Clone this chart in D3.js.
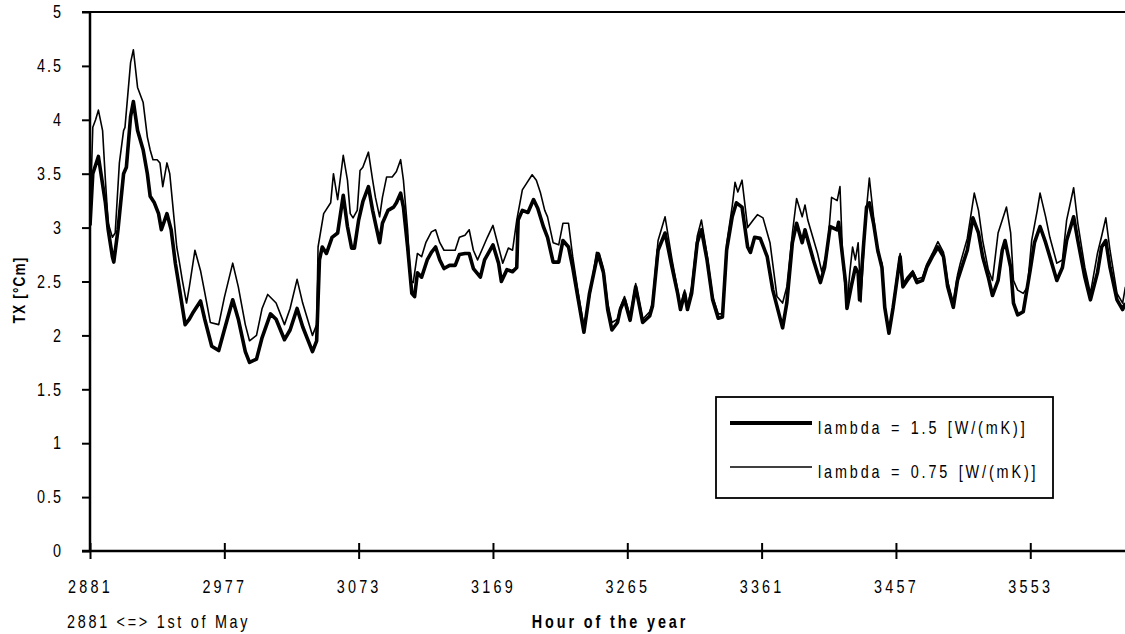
<!DOCTYPE html>
<html>
<head>
<meta charset="utf-8">
<script src="https://cdn.jsdelivr.net/npm/d3@7"></script>
<style>
  html, body { margin: 0; padding: 0; background: #fff; }
  svg { display: block; }
  text { font-family: "Liberation Sans", Arial, sans-serif; fill: #000; }
</style>
</head>
<body>
<svg id="chart" width="1125" height="634"></svg>
<script>
// Hourly temperature excess TX for May (hour 2881 = 1st of May), two soil conductivities.
// Each entry: [hour of the year, TX in °Cm]
const lambda15 = [
  [2881,3.02],[2883,3.50],[2887,3.66],[2892,3.23],[2894,2.98],[2897,2.73],[2898,2.68],[2901,2.98],
  [2905,3.50],[2907,3.56],[2910,4.03],[2912,4.17],[2915,3.90],[2919,3.72],[2922,3.50],[2924,3.29],
  [2927,3.23],[2930,3.13],[2932,2.98],[2936,3.13],[2939,2.98],[2942,2.67],[2944,2.51],[2949,2.10],
  [2952,2.15],[2955,2.22],[2960,2.32],[2963,2.15],[2968,1.90],[2973,1.86],[2977,2.05],[2983,2.33],
  [2987,2.15],[2992,1.85],[2995,1.75],[3000,1.78],[3004,1.98],[3010,2.20],[3014,2.15],[3020,1.96],
  [3024,2.05],[3029,2.25],[3033,2.08],[3040,1.85],[3043,1.95],[3045,2.70],[3047,2.82],[3050,2.76],
  [3054,2.91],[3058,2.95],[3062,3.30],[3065,3.01],[3068,2.81],[3070,2.81],[3073,3.07],[3076,3.24],
  [3080,3.38],[3083,3.16],[3085,3.04],[3088,2.86],[3090,3.04],[3094,3.16],[3098,3.19],[3100,3.23],
  [3103,3.32],[3105,3.19],[3108,2.82],[3111,2.39],[3113,2.36],[3115,2.58],[3118,2.54],[3122,2.70],
  [3125,2.77],[3128,2.82],[3131,2.70],[3134,2.62],[3138,2.65],[3142,2.65],[3145,2.75],[3149,2.76],
  [3152,2.76],[3155,2.62],[3160,2.54],[3163,2.70],[3169,2.84],[3173,2.67],[3175,2.50],[3179,2.61],
  [3183,2.59],[3186,2.63],[3187,3.07],[3190,3.16],[3194,3.14],[3198,3.26],[3201,3.18],[3205,3.01],
  [3208,2.91],[3212,2.68],[3216,2.68],[3219,2.88],[3223,2.82],[3226,2.63],[3230,2.33],[3234,2.03],
  [3238,2.39],[3244,2.76],[3248,2.58],[3251,2.24],[3254,2.05],[3258,2.12],[3260,2.24],[3263,2.33],
  [3267,2.14],[3271,2.45],[3276,2.12],[3281,2.18],[3283,2.27],[3287,2.79],[3292,2.95],[3297,2.63],
  [3301,2.39],[3303,2.24],[3306,2.39],[3308,2.24],[3311,2.39],[3315,2.86],[3318,2.98],[3322,2.70],
  [3326,2.33],[3330,2.16],[3333,2.17],[3336,2.79],[3340,3.10],[3343,3.23],[3347,3.19],[3351,2.82],
  [3353,2.77],[3356,2.91],[3360,2.90],[3365,2.73],[3369,2.42],[3376,2.07],[3379,2.30],[3383,2.86],
  [3386,3.04],[3390,2.86],[3392,2.98],[3398,2.70],[3403,2.49],[3406,2.63],[3410,3.01],[3415,2.98],
  [3416,3.05],[3421,2.49],[3422,2.25],[3425,2.45],[3428,2.63],[3430,2.58],[3431,2.33],[3434,2.86],
  [3436,3.19],[3438,3.23],[3441,3.04],[3444,2.79],[3447,2.63],[3449,2.26],[3452,2.02],[3455,2.26],
  [3458,2.54],[3460,2.73],[3462,2.45],[3465,2.51],[3469,2.58],[3472,2.49],[3476,2.51],[3479,2.63],
  [3483,2.73],[3487,2.82],[3491,2.73],[3494,2.45],[3498,2.26],[3501,2.51],[3504,2.63],[3508,2.79],
  [3512,3.09],[3516,2.95],[3519,2.73],[3523,2.54],[3526,2.37],[3530,2.51],[3533,2.79],[3535,2.88],
  [3539,2.63],[3541,2.30],[3544,2.19],[3548,2.22],[3553,2.61],[3556,2.86],[3560,3.01],[3564,2.86],
  [3567,2.73],[3572,2.51],[3576,2.63],[3579,2.88],[3584,3.10],[3587,2.88],[3592,2.54],[3596,2.33],
  [3601,2.58],[3604,2.82],[3607,2.88],[3610,2.63],[3615,2.33],[3619,2.24],[3621,2.30]
];

const lambda075 = [
  [2881,3.07],[2883,3.93],[2885,4.00],[2887,4.09],[2890,3.90],[2892,3.44],[2894,3.04],[2897,2.91],
  [2899,2.95],[2902,3.60],[2905,3.90],[2906,3.93],[2910,4.53],[2912,4.65],[2915,4.30],[2919,4.16],
  [2922,3.84],[2924,3.72],[2926,3.63],[2929,3.63],[2931,3.60],[2933,3.38],[2936,3.60],[2938,3.50],
  [2940,3.23],[2943,2.82],[2945,2.67],[2947,2.51],[2950,2.30],[2952,2.45],[2956,2.79],[2960,2.60],
  [2963,2.40],[2967,2.12],[2973,2.10],[2977,2.35],[2983,2.67],[2987,2.45],[2992,2.10],[2995,1.95],
  [3000,2.00],[3004,2.25],[3008,2.38],[3014,2.30],[3020,2.10],[3024,2.25],[3029,2.52],[3033,2.30],
  [3040,2.00],[3043,2.10],[3044,2.82],[3048,3.13],[3053,3.23],[3055,3.50],[3058,3.26],[3062,3.67],
  [3065,3.44],[3067,3.13],[3069,3.09],[3072,3.16],[3074,3.53],[3076,3.56],[3080,3.70],[3083,3.44],
  [3085,3.28],[3088,3.10],[3090,3.28],[3093,3.47],[3097,3.47],[3100,3.52],[3103,3.63],[3105,3.44],
  [3108,2.98],[3110,2.51],[3112,2.49],[3115,2.76],[3118,2.73],[3121,2.86],[3125,2.96],[3128,2.98],
  [3131,2.86],[3134,2.79],[3138,2.79],[3142,2.79],[3145,2.91],[3149,2.93],[3152,2.98],[3155,2.79],
  [3158,2.70],[3162,2.82],[3165,2.91],[3169,3.02],[3173,2.82],[3176,2.67],[3180,2.81],[3183,2.79],
  [3186,3.07],[3190,3.35],[3193,3.41],[3197,3.49],[3200,3.44],[3203,3.32],[3206,3.16],[3208,3.10],
  [3212,2.86],[3216,2.84],[3219,3.04],[3223,3.04],[3226,2.73],[3230,2.39],[3234,2.08],[3238,2.36],
  [3243,2.77],[3245,2.76],[3248,2.62],[3251,2.30],[3254,2.12],[3258,2.15],[3260,2.26],[3263,2.36],
  [3267,2.18],[3271,2.48],[3276,2.15],[3281,2.22],[3283,2.30],[3287,2.88],[3292,3.10],[3297,2.70],
  [3301,2.42],[3303,2.27],[3306,2.42],[3308,2.27],[3311,2.45],[3315,2.92],[3318,3.07],[3322,2.75],
  [3326,2.36],[3330,2.20],[3333,2.20],[3336,2.85],[3340,3.20],[3342,3.42],[3344,3.33],[3347,3.44],
  [3351,3.00],[3355,3.07],[3358,3.12],[3362,3.09],[3367,2.86],[3372,2.36],[3376,2.30],[3379,2.45],
  [3383,2.95],[3386,3.27],[3390,3.10],[3392,3.21],[3394,3.07],[3401,2.76],[3404,2.59],[3408,2.79],
  [3411,3.28],[3415,3.25],[3417,3.38],[3419,2.70],[3422,2.26],[3424,2.58],[3426,2.82],[3428,2.70],
  [3430,2.86],[3432,2.31],[3435,3.04],[3438,3.46],[3441,3.10],[3444,2.76],[3447,2.67],[3449,2.28],
  [3452,2.03],[3455,2.28],[3458,2.58],[3460,2.76],[3462,2.48],[3465,2.54],[3469,2.60],[3472,2.52],
  [3476,2.54],[3479,2.66],[3483,2.76],[3487,2.87],[3491,2.77],[3494,2.50],[3498,2.30],[3501,2.56],
  [3503,2.67],[3508,2.90],[3513,3.32],[3516,3.16],[3519,2.88],[3523,2.61],[3526,2.51],[3530,2.95],
  [3533,3.07],[3536,3.19],[3539,2.95],[3541,2.51],[3544,2.42],[3548,2.39],[3551,2.45],[3554,2.88],
  [3558,3.16],[3560,3.32],[3564,3.10],[3567,2.91],[3572,2.67],[3576,2.70],[3579,3.07],[3584,3.37],
  [3587,3.04],[3592,2.63],[3596,2.39],[3601,2.76],[3604,2.92],[3607,3.09],[3610,2.79],[3615,2.39],
  [3619,2.30],[3621,2.45]
];

const xTicks = [2881, 2977, 3073, 3169, 3265, 3361, 3457, 3553];
const yTicks = [0, 0.5, 1, 1.5, 2, 2.5, 3, 3.5, 4, 4.5, 5];
const seriesNames = ["lambda = 1.5 [W/(mK)]", "lambda = 0.75 [W/(mK)]"];

const svg = d3.select("#chart");
const W = 1125;
const NARROW = 0.8; // horizontal squeeze giving the condensed lettering

const x = d3.scaleLinear().domain([2881, 3625]).range([90, 1131]);
const y = d3.scaleLinear().domain([0, 5]).range([551, 12]);

// condensed text placed at (px, py)
function narrowText(sel, px, py, str, opts) {
  const t = sel.append("text")
    .attr("transform", `translate(${px},${py}) scale(${NARROW},1)`)
    .attr("font-size", opts.size)
    .attr("letter-spacing", opts.spacing || 0)
    .text(str);
  if (opts.bold) t.attr("font-weight", "bold");
  if (opts.anchor) t.attr("text-anchor", opts.anchor);
  if (opts.word) t.attr("word-spacing", opts.word);
  return t;
}

// clip the curves to the plotting area (right side runs off the page)
svg.append("clipPath").attr("id", "plotClip")
  .append("rect").attr("x", 90).attr("y", 0).attr("width", W - 90).attr("height", 560);

const line = d3.line().x(d => x(d[0])).y(d => y(d[1]));

const plot = svg.append("g").attr("clip-path", "url(#plotClip)");
plot.append("path").datum(lambda075)
  .attr("fill", "none").attr("stroke", "#000").attr("stroke-width", 1.6)
  .attr("stroke-linejoin", "round").attr("d", line);
plot.append("path").datum(lambda15)
  .attr("fill", "none").attr("stroke", "#000").attr("stroke-width", 3.6)
  .attr("stroke-linejoin", "round").attr("d", line);

// top frame line at y = 5
svg.append("line")
  .attr("x1", 82).attr("x2", W).attr("y1", y(5)).attr("y2", y(5))
  .attr("stroke", "#000").attr("stroke-width", 2);

// y axis with ticks crossing the spine
const yAxis = svg.append("g").attr("transform", "translate(90,0)")
  .call(d3.axisLeft(y).tickValues(yTicks).tickFormat(d3.format("")).tickSize(8).tickPadding(19));
yAxis.select(".domain").attr("stroke-width", 2.5).attr("d", `M0,${y(5)}V${y(0)}`);
yAxis.selectAll(".tick line").attr("x1", 0).attr("x2", -8).attr("stroke-width", 2);
yAxis.selectAll(".tick text")
  .attr("x", -27 / NARROW)
  .attr("transform", `scale(${NARROW},1)`)
  .attr("font-size", 18).attr("letter-spacing", 2.5)
  .attr("font-family", "'Liberation Sans', Arial, sans-serif");

// x axis
const xAxis = svg.append("g").attr("transform", `translate(0,${y(0)})`)
  .call(d3.axisBottom(x).tickValues(xTicks).tickFormat(d3.format("d")).tickSize(8).tickPadding(21));
xAxis.select(".domain").attr("stroke-width", 2.5).attr("d", `M82,0H${W}`);
xAxis.selectAll(".tick line").attr("y1", -8).attr("y2", 8).attr("stroke-width", 2);
xAxis.selectAll(".tick text")
  .attr("transform", `scale(${NARROW},1)`)
  .attr("font-size", 18).attr("letter-spacing", 4)
  .attr("font-family", "'Liberation Sans', Arial, sans-serif");

// axis titles and note
narrowText(svg, 610, 628, "Hour of the year", { size: 18, bold: true, spacing: 3.6, anchor: "middle" });
narrowText(svg, 67, 628, "2881 <=> 1st of May", { size: 18, spacing: 3.4 });

svg.append("text")
  .attr("transform", `translate(25,290) rotate(-90) scale(${NARROW},1)`)
  .attr("text-anchor", "middle")
  .attr("font-size", 17).attr("font-weight", "bold").attr("letter-spacing", 1.5)
  .text("TX [°Cm]");

// legend
const lg = svg.append("g");
lg.append("rect").attr("x", 716).attr("y", 397).attr("width", 337).attr("height", 101)
  .attr("fill", "#fff").attr("stroke", "#000").attr("stroke-width", 1.8);
const rows = [{ name: seriesNames[0], w: 4.2, y: 423 }, { name: seriesNames[1], w: 1.6, y: 467 }];
rows.forEach(r => {
  lg.append("line").attr("x1", 730).attr("x2", 812).attr("y1", r.y).attr("y2", r.y)
    .attr("stroke", "#000").attr("stroke-width", r.w);
  narrowText(lg, 818, r.y + 11, r.name, { size: 18, spacing: 3.6, word: 2 });
});
</script>
</body>
</html>
